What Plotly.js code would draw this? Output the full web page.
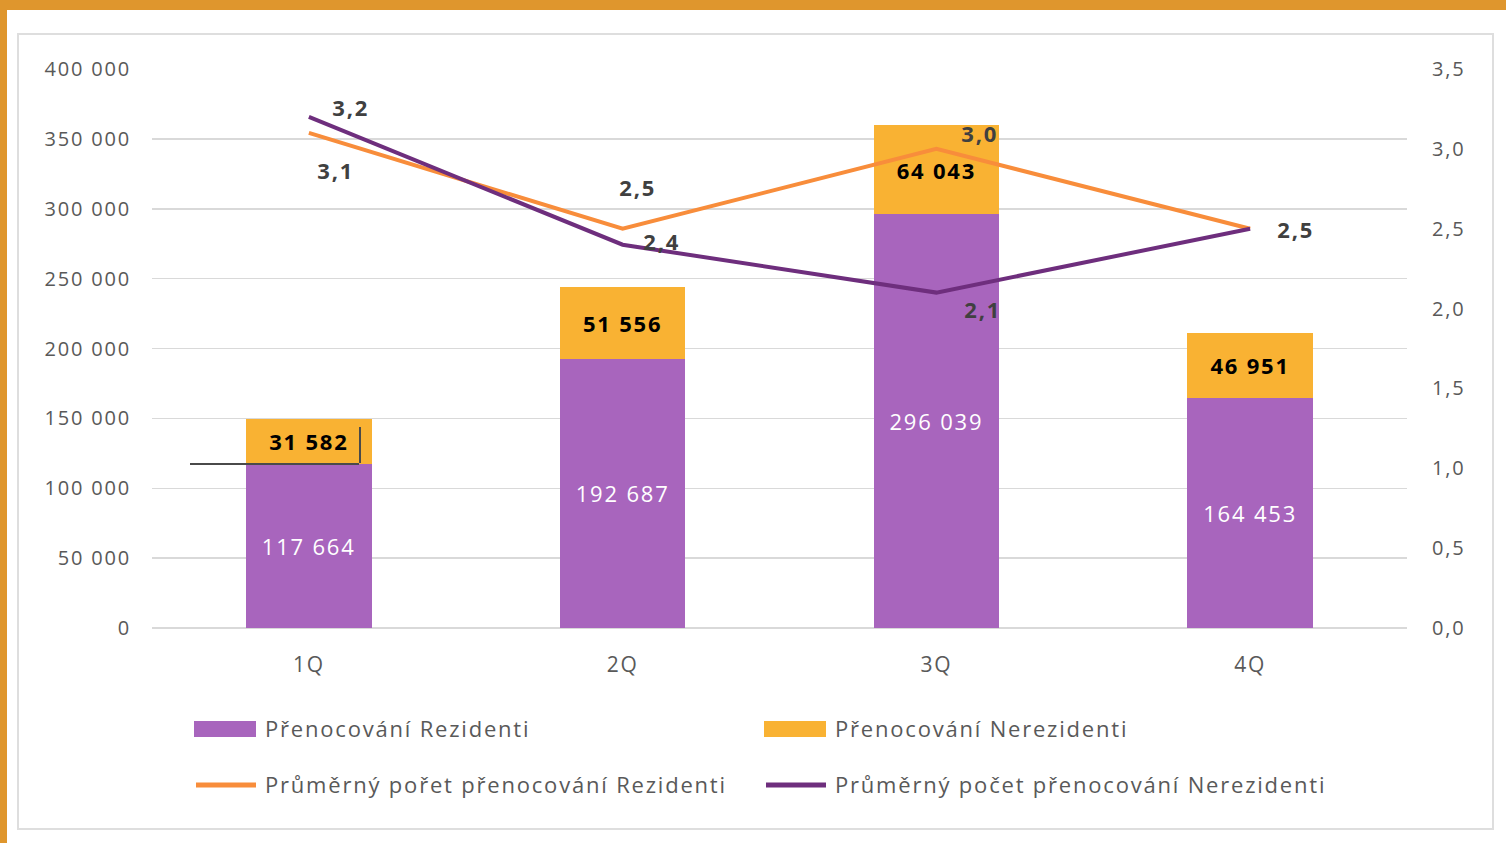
<!DOCTYPE html>
<html>
<head>
<meta charset="utf-8">
<script src="https://cdn.plot.ly/plotly-3.0.1.min.js"></script>
<style>
body{margin:0;background:#fff;}
#wrap{position:relative;width:1506px;height:843px;overflow:hidden;background:#fff;}
.band{position:absolute;background:#DF962D;}
#box{position:absolute;left:17px;top:33px;width:1473px;height:793px;border:2px solid #DEDEDE;}
#plot{position:absolute;left:0;top:0;width:1506px;height:843px;}
#plot svg text{letter-spacing:1.8px;}
</style>
</head>
<body>
<div id="wrap">
  <div class="band" style="left:0;top:0;width:1506px;height:10px;"></div>
  <div class="band" style="left:0;top:0;width:7px;height:843px;"></div>
  <div id="box"></div>
  <div id="plot"></div>
</div>
<script>
// data
var quarters = ["1Q", "2Q", "3Q", "4Q"];
var residents = [117664, 192687, 296039, 164453];
var nonResidents = [31582, 51556, 64043, 46951];
var avgResidents = [3.1, 2.5, 3.0, 2.5];
var avgNonResidents = [3.2, 2.4, 2.1, 2.5];
var seriesNames = [
    "Přenocování Rezidenti",
    "Přenocování Nerezidenti",
    "Průměrný pořet přenocování Rezidenti",
    "Průměrný počet přenocování Nerezidenti"
];
var leftTicks = [0, 50000, 100000, 150000, 200000, 250000, 300000, 350000, 400000];
var rightTicks = [0, 0.5, 1, 1.5, 2, 2.5, 3, 3.5];

// styles
var cPurple = "#A865BD", cYellow = "#F9B233", cOrange = "#F88D3B", cDark = "#6E2E7D";
var fontFam = "'Open Sans', 'Noto Sans', sans-serif";
var tickColor = "#595959";

// label offsets (px) for the average labels, 4Q orange hidden
var resShift = [[27, -37], [15, 42], [43, 16], null];
var nonShift = [[42, 10], [39, 4], [46, -16], [45, 0]];

// plot area in pixels
var L = 152, R = 1407, T = 69, B = 628;
function px(x) { return (x - L) / (R - L); }
function py(y) { return (B - y) / (B - T); }

function dec(v) { return v.toFixed(1).replace(".", ","); }

var data = [
    {
        type: "bar", x: quarters, y: residents, name: seriesNames[0],
        marker: {color: cPurple},
        texttemplate: "%{y:,d}", textposition: "inside", insidetextanchor: "middle",
        textangle: 0, constraintext: "none",
        textfont: {family: fontFam, size: 22, color: "#ffffff"},
        hoverinfo: "none"
    },
    {
        type: "bar", x: quarters, y: nonResidents, name: seriesNames[1],
        marker: {color: cYellow},
        texttemplate: "%{y:,d}", textposition: "inside", insidetextanchor: "middle",
        textangle: 0, constraintext: "none",
        textfont: {family: fontFam, size: 22, color: "#000000", weight: "bold"},
        hoverinfo: "none"
    },
    {
        type: "scatter", mode: "lines", x: quarters, y: avgResidents, yaxis: "y2",
        name: seriesNames[2], line: {color: cOrange, width: 4}, hoverinfo: "none"
    },
    {
        type: "scatter", mode: "lines", x: quarters, y: avgNonResidents, yaxis: "y2",
        name: seriesNames[3], line: {color: cDark, width: 4}, hoverinfo: "none"
    }
];

var annotations = [];
function addLabels(vals, shifts) {
    vals.forEach(function (v, i) {
        if (!shifts[i]) return;
        annotations.push({
            x: quarters[i], y: v, xref: "x", yref: "y2", text: dec(v),
            showarrow: false, xshift: shifts[i][0], yshift: shifts[i][1],
            font: {family: fontFam, size: 22, color: "#404040", weight: "bold"}
        });
    });
}
addLabels(avgResidents, resShift);
addLabels(avgNonResidents, nonShift);

// custom legend
var shapes = [];
var legendPos = [[194, 729], [764, 729], [194, 785], [764, 785]];
var legendCol = [cPurple, cYellow, cOrange, cDark];
seriesNames.forEach(function (n, i) {
    var p = legendPos[i];
    if (i < 2) {
        shapes.push({type: "rect", xref: "paper", yref: "paper",
            x0: px(p[0]), x1: px(p[0] + 62), y0: py(p[1] - 8), y1: py(p[1] + 8),
            fillcolor: legendCol[i], line: {width: 0}});
    } else {
        shapes.push({type: "line", xref: "paper", yref: "paper",
            x0: px(p[0] + 2), x1: px(p[0] + 62), y0: py(p[1]), y1: py(p[1]),
            line: {color: legendCol[i], width: 5}});
    }
    annotations.push({xref: "paper", yref: "paper", x: px(p[0] + 69), y: py(p[1] - 1),
        xanchor: "left", yanchor: "middle", align: "left", width: 540, showarrow: false,
        text: n, font: {family: fontFam, size: 22, color: tickColor}});
});

// stray text-box edge near 1Q
shapes.push({type: "line", xref: "paper", yref: "paper", layer: "above",
    x0: px(190), x1: px(359), y0: py(464), y1: py(464), line: {color: "#4a4a4a", width: 2}});
shapes.push({type: "line", xref: "paper", yref: "paper", layer: "above",
    x0: px(360), x1: px(360), y0: py(427), y1: py(463), line: {color: "#4a4a4a", width: 2}});

var layout = {
    width: 1506, height: 843,
    margin: {l: L, r: 1506 - R, t: T, b: 843 - B},
    paper_bgcolor: "rgba(0,0,0,0)", plot_bgcolor: "rgba(0,0,0,0)",
    separators: ", ",
    barmode: "stack", bargap: 0.6,
    showlegend: false,
    font: {family: fontFam, color: tickColor},
    xaxis: {
        tickfont: {size: 21, color: tickColor}, ticks: "", ticklabelstandoff: 22,
        showline: false, showgrid: false, zeroline: false
    },
    yaxis: {
        range: [0, 400000], tickvals: leftTicks, tickformat: ",d",
        tickfont: {size: 20, color: tickColor}, ticks: "", ticklabelstandoff: 20,
        gridcolor: "#D9D9D9", gridwidth: 1.5, zeroline: true, zerolinecolor: "#D9D9D9",
        zerolinewidth: 1.5, showline: false
    },
    yaxis2: {
        overlaying: "y", side: "right", range: [0, 3.5], tickvals: rightTicks,
        tickformat: ".1f", tickfont: {size: 20, color: tickColor}, ticks: "",
        ticklabelstandoff: 24, showgrid: false, zeroline: false, showline: false
    },
    annotations: annotations,
    shapes: shapes
};

Plotly.newPlot("plot", data, layout, {displayModeBar: false, staticPlot: true});
</script>
</body>
</html>
